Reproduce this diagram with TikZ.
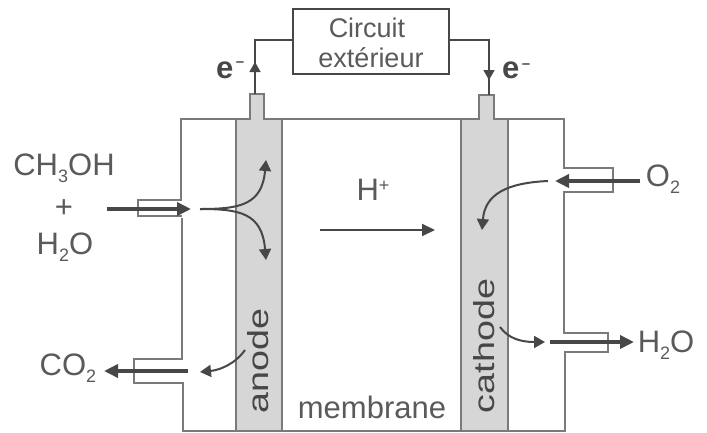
\documentclass[tikz,border=0pt]{standalone}
\usepackage{fontspec}
\setmainfont{Liberation Sans}
\usetikzlibrary{arrows.meta}
\definecolor{ink}{HTML}{474747}
\definecolor{txt}{HTML}{5A5A5A}
\definecolor{wall}{HTML}{7A7A7A}
\definecolor{plate}{HTML}{D6D6D6}
\newcommand{\fs}[1]{\fontsize{#1}{#1}\selectfont}
\tikzset{x=1pt,y=-1pt,
 wallline/.style={draw=wall,line width=1.7pt,line join=miter},
 platebox/.style={wallline,fill=plate},
 thick arrow/.style={draw=ink,line width=4pt,-{Triangle[length=14pt,width=13pt]}},
 flow/.style={draw=ink,line width=2pt,-{Triangle[length=11pt,width=12pt]}},
 wire/.style={draw=ink,line width=1.6pt},
 label/.style={text=txt,inner sep=0pt,font=\fs{31}},
 vlabel/.style={text=ink,inner sep=0pt,font=\fs{29},rotate=90,xscale=1.3},
 elabel/.style={text=ink,inner sep=0pt,font=\fs{31}\bfseries}}
\begin{document}
\begin{tikzpicture}
\useasboundingbox (0,0) rectangle (707,432);
% cell outline
\draw[wallline] (236,119) -- (181,119) -- (181,200) -- (138,200) -- (138,216) -- (182,216);
\draw[wallline] (182,218) -- (182,359) -- (134,359) -- (134,383) -- (183,383) -- (183,431) -- (565,431) -- (565,352) -- (608,352) -- (608,333) -- (564,333) -- (564,192) -- (613,192) -- (613,168) -- (564,168) -- (564,119) -- (508,119);
\draw[wallline] (282,119) -- (461,119);
% electrodes
\path[platebox] (236,431) -- (236,119) -- (250,119) -- (250,94) -- (264,94) -- (264,119) -- (282,119) -- (282,431) -- cycle;
\path[platebox] (461,431) -- (461,119) -- (479,119) -- (479,95) -- (494,95) -- (494,119) -- (508,119) -- (508,431) -- cycle;
\coordinate (tabL) at (255,94);
\coordinate (tabR) at (489,95);
% circuit
\node[draw=ink,line width=1.6pt,minimum width=156pt,minimum height=65pt,inner sep=0pt] (box) at (371,41.5) {};
\node[text=txt,font=\fs{27},inner sep=0pt] (t1) at (367,28) {Circuit};
\node[text=txt,font=\fs{27},inner sep=0pt] (t2) at (371,58) {extérieur};
\coordinate (cl) at (255,40);
\coordinate (cr) at (489,40);
\coordinate (al) at (255,62);
\coordinate (ar) at (489,80);
\draw[wire] (box.west |- cl) -- (cl) -- (tabL);
\draw[wire] (box.east |- cr) -- (cr) -- (tabR);
\draw[wire,-{Triangle[length=10pt,width=11pt]}] (255,80) -- (al);
\draw[wire,-{Triangle[length=10pt,width=11pt]}] (489,62) -- (ar);
% flows
\coordinate (inA) at (107,209);\coordinate (inB) at (191,209);
\coordinate (spl) at (200,209);\coordinate (upE) at (266,160);\coordinate (dnE) at (266,260);
\draw[thick arrow] (inA) -- (inB);
\draw[flow] (spl) .. controls (240,209) and (262,205) .. (upE);
\draw[flow] (spl) .. controls (240,209) and (262,213) .. (dnE);
\coordinate (coA) at (188,371);\coordinate (coB) at (104,371);
\draw[thick arrow] (coA) -- (coB);
\coordinate (coC) at (245,350);\coordinate (coD) at (200,372);
\draw[flow] (coC) .. controls (235,364) and (220,370) .. (coD);
\coordinate (hA) at (320,230);\coordinate (hB) at (435,230);
\draw[flow,-{Triangle[length=13pt,width=12pt]}] (hA) -- (hB);
\coordinate (oA) at (640,181);\coordinate (oB) at (555,181);
\draw[thick arrow] (oA) -- (oB);
\coordinate (oC) at (548,181);\coordinate (oD) at (482,230);
\draw[flow] (oC) .. controls (505,183) and (485,195) .. (oD);
\coordinate (wA) at (550,342);\coordinate (wB) at (634,342);
\draw[thick arrow] (wA) -- (wB);
\coordinate (wC) at (500,327);\coordinate (wD) at (545,342);
\draw[flow] (wC) .. controls (508,338) and (520,342) .. (wD);
% labels
\node[label] (ch) at (64,168) {CH\raisebox{-7pt}{\fs{18}3}OH};
\node[label] (pl) at (64,209) {+};
\node[label] (hw) at (65,247) {H\raisebox{-7pt}{\fs{18}2}O};
\node[label] (co) at (68,368) {CO\raisebox{-7pt}{\fs{18}2}};
\node[label] (ox) at (663,179) {O\raisebox{-7pt}{\fs{18}2}};
\node[label] (ho) at (666,345) {H\raisebox{-7pt}{\fs{18}2}O};
\node[label] (hp) at (373,190) {H\raisebox{9pt}{\fs{18}+}};
\node[label] (me) at (372,407) {membrane};
\node[vlabel] (an) at (258,361) {anode};
\node[vlabel] (ca) at (484,346) {cathode};
\node[elabel,anchor=west] (el) at (216,70) {e\raisebox{12pt}{\fs{15}\,–}};
\node[elabel,anchor=west] (er) at (502,70) {e\raisebox{10pt}{\fs{15}\,–}};
\end{tikzpicture}
\end{document}
